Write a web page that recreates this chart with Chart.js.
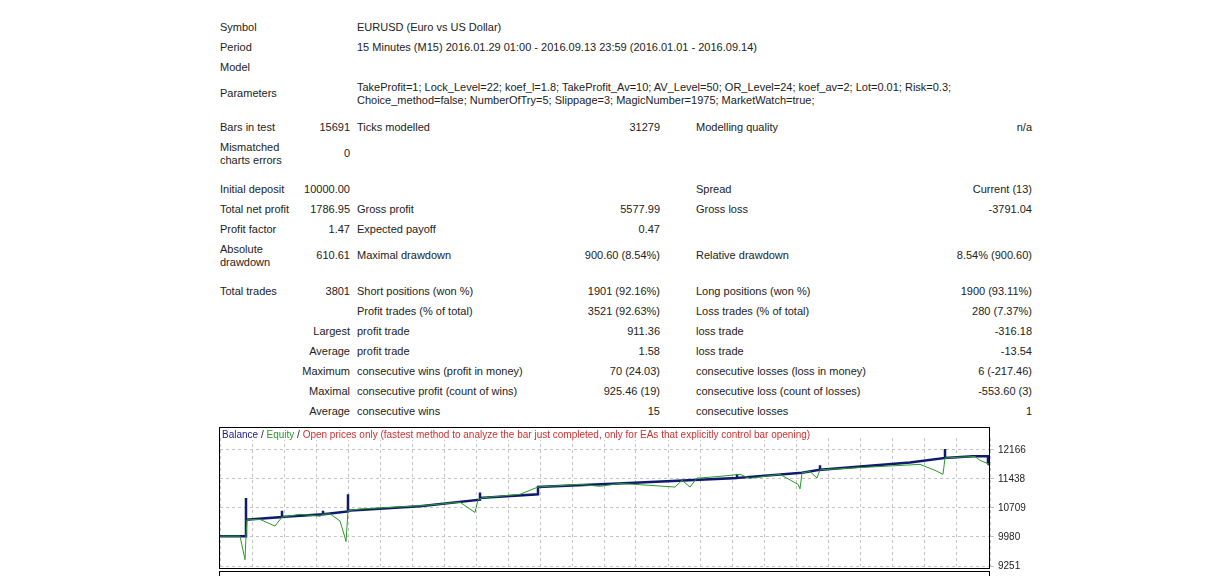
<!DOCTYPE html>
<html>
<head>
<meta charset="utf-8">
<script src="https://cdn.jsdelivr.net/npm/chart.js@4"></script>
<style>
body { margin:0; background:#fff; font-family:"Liberation Sans", Arial, sans-serif; font-size:11px; color:#222; width:1208px; height:576px; overflow:hidden; position:relative; }
.t { position:absolute; white-space:nowrap; line-height:13px; }
#box { position:absolute; left:219px; top:427px; width:771px; height:142px; border:1px solid #000; box-sizing:border-box; }
#box2 { position:absolute; left:219px; top:571px; width:771px; height:10px; border:1px solid #000; box-sizing:border-box; }
#cap { position:absolute; left:222px; top:429px; font-size:10px; background:#fff; }
#wrap { position:absolute; left:220px; top:428px; }
</style>
</head>
<body>
<div id="report"></div>
<div id="wrap"><canvas id="grafico" width="830" height="148"></canvas></div>
<div id="box"></div>
<div id="box2"></div>
<div id="cap"><span style="color:#1a1a8c">Balance</span> / <span style="color:#2a9a2a">Equity</span> / <span style="color:#d03030">Open prices only (fastest method to analyze the bar just completed, only for EAs that explicitly control bar opening)</span></div>
<script>
// dados do gráfico (x = tempo do teste, escala 0..770)
let tempoSaldo = [0, 26, 26, 26, 62, 62, 62, 103, 103, 103, 128, 128, 128, 200, 260, 260, 260, 318, 318, 398, 517, 517, 517, 582, 600, 600, 600, 690, 725, 725, 725, 753, 768, 768, 770];
let saldo = [10000, 10000, 10959, 10412, 10480, 10640, 10480, 10548, 10640, 10548, 10620, 11050, 10640, 10750, 10913, 11095, 10960, 11050, 11232, 11323, 11460, 11551, 11460, 11590, 11665, 11779, 11665, 11847, 11961, 12189, 11961, 12007, 12007, 11824, 11787];

let tempoEquity = [0, 20, 25, 26, 27, 40, 55, 62, 63, 80, 100, 103, 110, 120, 124, 126, 128, 140, 200, 240, 255, 258, 262, 300, 318, 360, 380, 400, 455, 462, 470, 477, 480, 500, 520, 530, 560, 578, 580, 582, 590, 597, 600, 640, 700, 715, 723, 725, 740, 755, 760, 767, 770];
let equity = [10000, 10000, 9409, 10000, 10412, 10420, 10253, 10480, 10480, 10548, 10500, 10548, 10560, 10380, 10050, 9865, 10640, 10680, 10760, 10850, 10594, 10913, 10960, 11050, 11232, 11300, 11250, 11323, 11232, 11400, 11232, 11460, 11460, 11500, 11550, 11450, 11550, 11300, 11186, 11590, 11620, 11460, 11665, 11720, 11800, 11650, 11551, 11961, 11980, 12000, 11900, 11830, 11787];

let ticksY = [9251, 9980, 10709, 11438, 12166];

const pontos = (xs, ys) => xs.map((x, i) => ({ x: x, y: ys[i] }));

// tabela do relatório
let linhas = [
  [28, "Symbol", "", "EURUSD (Euro vs US Dollar)"],
  [48, "Period", "", "15 Minutes (M15) 2016.01.29 01:00 - 2016.09.13 23:59 (2016.01.01 - 2016.09.14)"],
  [68, "Model", "", ""],
  [94, "Parameters", "", ""],
  [128, "Bars in test", "15691", "Ticks modelled", "31279", "Modelling quality", "n/a"],
  [154, "", "0", ""],
  [190, "Initial deposit", "10000.00", "", "", "Spread", "Current (13)"],
  [210, "Total net profit", "1786.95", "Gross profit", "5577.99", "Gross loss", "-3791.04"],
  [230, "Profit factor", "1.47", "Expected payoff", "0.47", "", ""],
  [256, "", "610.61", "Maximal drawdown", "900.60 (8.54%)", "Relative drawdown", "8.54% (900.60)"],
  [292, "Total trades", "3801", "Short positions (won %)", "1901 (92.16%)", "Long positions (won %)", "1900 (93.11%)"],
  [312, "", "", "Profit trades (% of total)", "3521 (92.63%)", "Loss trades (% of total)", "280 (7.37%)"],
  [332, "", "Largest", "profit trade", "911.36", "loss trade", "-316.18"],
  [352, "", "Average", "profit trade", "1.58", "loss trade", "-13.54"],
  [372, "", "Maximum", "consecutive wins (profit in money)", "70 (24.03)", "consecutive losses (loss in money)", "6 (-217.46)"],
  [392, "", "Maximal", "consecutive profit (count of wins)", "925.46 (19)", "consecutive loss (count of losses)", "-553.60 (3)"],
  [412, "", "Average", "consecutive wins", "15", "consecutive losses", "1"]
];

let rep = document.getElementById("report");
function txt(x, y, s, direita) {
  let d = document.createElement("div");
  d.className = "t";
  d.textContent = s;
  d.style.top = (y - 7) + "px";
  if (direita) { d.style.right = (1208 - x) + "px"; } else { d.style.left = x + "px"; }
  rep.appendChild(d);
}
linhas.forEach(l => {
  if (l[1]) txt(220, l[0], l[1]);
  if (l[2]) txt(350, l[0], l[2], true);
  if (l[3]) txt(357, l[0], l[3]);
  if (l[4]) txt(660, l[0], l[4], true);
  if (l[5]) txt(696, l[0], l[5]);
  if (l[6]) txt(1032, l[0], l[6], true);
});
txt(357, 88, "TakeProfit=1; Lock_Level=22; koef_l=1.8; TakeProfit_Av=10; AV_Level=50; OR_Level=24; koef_av=2; Lot=0.01; Risk=0.3;");
txt(357, 101, "Choice_method=false; NumberOfTry=5; Slippage=3; MagicNumber=1975; MarketWatch=true;");
txt(220, 148, "Mismatched");
txt(220, 161, "charts errors");
txt(220, 250, "Absolute");
txt(220, 263, "drawdown");

const ctx = document.getElementById("grafico").getContext("2d");
new Chart(ctx, {
  type: "line",
  data: {
    datasets: [
      { label: "Equity", data: pontos(tempoEquity, equity), borderColor: "#2a9a2a", borderWidth: 1, pointRadius: 0, tension: 0 },
      { label: "Balance", data: pontos(tempoSaldo, saldo), borderColor: "#0d1a6e", borderWidth: 2.5, pointRadius: 0, tension: 0 }
    ]
  },
  options: {
    responsive: false,
    animation: false,
    layout: { padding: { top: 0, bottom: 0, left: 0, right: 0 } },
    plugins: { legend: { display: false }, tooltip: { enabled: false } },
    scales: {
      x: {
        type: "linear", min: 0, max: 770,
        afterFit: ax => { ax.height = 0; },
        ticks: { display: false, stepSize: 32 },
        border: { display: false, dash: [3, 3] },
        grid: { color: "#c4c4c4", drawTicks: false }
      },
      y: {
        position: "right", min: 9251, max: 12462,
        afterBuildTicks: ax => { ax.ticks = ticksY.map(v => ({ value: v })); },
        afterFit: ax => { ax.width = 60; },
        ticks: { color: "#222", font: { family: "Liberation Sans", size: 10 }, padding: 4, callback: v => String(v) },
        border: { display: false, dash: [3, 3] },
        grid: { color: "#c4c4c4", tickLength: 4 }
      }
    }
  }
});
</script>
</body>
</html>
